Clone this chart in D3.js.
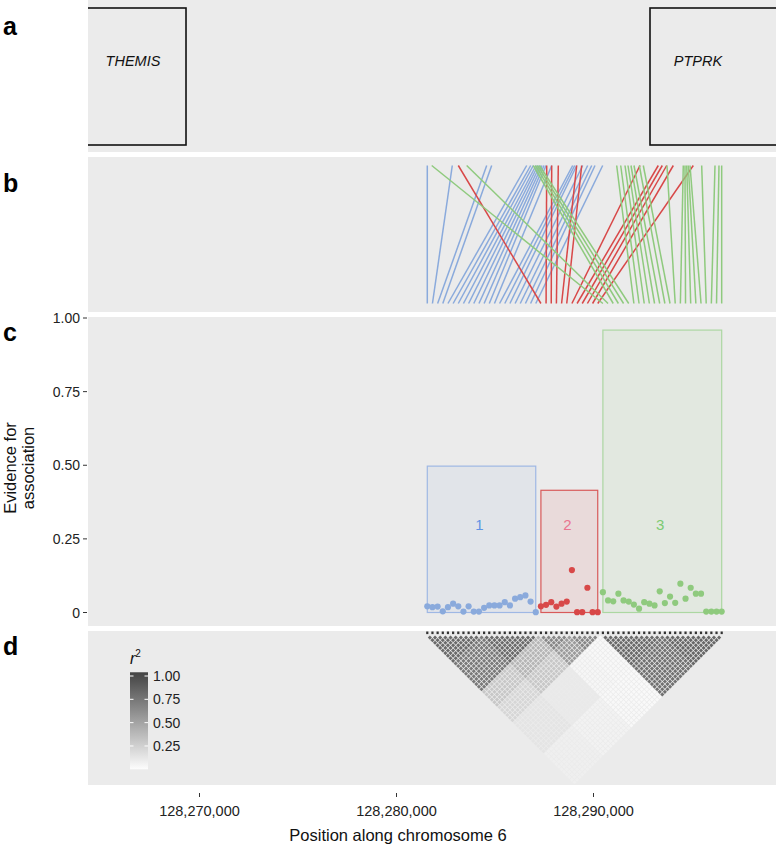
<!DOCTYPE html>
<html><head><meta charset="utf-8">
<script src="https://cdn.jsdelivr.net/npm/d3@7"></script>
<style>body{margin:0;background:#fff}svg{display:block;font-family:"Liberation Sans",Arial,sans-serif}</style>
</head><body><svg id="c" width="776" height="845"></svg>
<script>
// ---------------- data ----------------
const xTicks = [128270000, 128280000, 128290000];
const geneNames = ["THEMIS", "PTPRK"];
const geneStarts = [128240000, 128292868];
const geneEnds = [128269315, 128320000];
const geneLabelPos = [128266624, 128295304];

const clusterNames = ["1", "2", "3"];
const clusterEvidence = [0.497, 0.415, 0.959];
const yTicks = [0, 0.25, 0.5, 0.75, 1];

const bluePos = [128281563,128282832,128284579,128284832,128286609,128286812,128286944,128287081,128287183,128287284,128287386,128287487,128287589,128287878,128288944,128289046,128289147,128289452,128289705,128289909,128290076,128290467];
const redPos = [128283137,128287624,128287878,128288213,128289147,128289401,128292360,128293289,128293492,128293716,128294051,128295066];
const greenPos = [128281787,128283563,128286944,128287056,128287157,128287259,128291178,128291381,128291599,128291751,128291903,128292056,128292325,128292528,128293731,128294558,128294644,128294731,128294812,128294898,128295492,128296167,128296370,128296507];

const blueEvidence = [0.021,0.018,0.020,0.004,0.018,0.030,0.021,0.003,0.021,0.003,0.003,0.016,0.024,0.024,0.024,0.035,0.024,0.047,0.052,0.058,0.037,0.001];
const redEvidence = [0.021,0.026,0.035,0.020,0.030,0.037,0.144,0.001,0.001,0.084,0.001,0.001];
const greenEvidence = [0.069,0.041,0.038,0.064,0.041,0.037,0.027,0.013,0.035,0.030,0.024,0.072,0.032,0.054,0.033,0.098,0.047,0.084,0.064,0.064,0.003,0.003,0.003,0.003];

// LD (r^2) between groups of consecutive SNPs (in plotted order)
const ldGroupSizes = [11, 11, 6, 6, 12, 12];
const ldGroupR2 = [
  [0.82, 0.74, 0.30, 0.22, 0.14, 0.08],
  [0.74, 0.82, 0.40, 0.30, 0.11, 0.06],
  [0.30, 0.40, 0.66, 0.55, 0.04, 0.03],
  [0.22, 0.30, 0.55, 0.66, 0.03, 0.02],
  [0.14, 0.11, 0.04, 0.03, 0.82, 0.78],
  [0.08, 0.06, 0.03, 0.02, 0.78, 0.84]
];
const legendTicks = [0.25, 0.5, 0.75, 1];

// ---------------- styles ----------------
const colors = ["#8aaadc", "#d84848", "#8fca7e"];
const boxStroke = ["#9fb8e4", "#d85a5a", "#acd7a2"];
const labelColors = ["#5f93e4", "#ea7590", "#7ccb73"];
const bg = "#ebebeb";

const svg = d3.select("#c");
const L = 88, R = 776;
const panels = {a:[0,152], b:[157,312], c:[317,626], d:[631,785]};

const x = d3.scaleLinear().domain([128270000, 128290000]).range([199.5, 593.5]);

const defs = svg.append("defs");
defs.append("clipPath").attr("id","clipA").append("rect")
  .attr("x",L).attr("y",panels.a[0]).attr("width",R-L).attr("height",panels.a[1]-panels.a[0]);

Object.values(panels).forEach(p => svg.append("rect").attr("x",L).attr("y",p[0]).attr("width",R-L).attr("height",p[1]-p[0]).attr("fill",bg));

// panel letters
[["a",35],["b",192],["c",341],["d",655]].forEach(([t,y]) =>
  svg.append("text").attr("x",3).attr("y",y).attr("font-size",25).attr("font-weight","bold").attr("fill","#000").text(t));

// ---- panel a: genes ----
const ga = svg.append("g").attr("clip-path","url(#clipA)");
geneNames.forEach((n,k) => {
  ga.append("rect").attr("x",x(geneStarts[k])).attr("y",8).attr("width",x(geneEnds[k])-x(geneStarts[k])).attr("height",137)
    .attr("fill","none").attr("stroke","#111").attr("stroke-width",1.6);
  ga.append("text").attr("x",x(geneLabelPos[k])).attr("y",66).attr("text-anchor","middle")
    .attr("font-size",14.5).attr("font-style","italic").attr("fill","#111").text(n);
});

// ---- SNP table ----
const snps = [];
[bluePos, redPos, greenPos].forEach((arr, c) => {
  const ev = [blueEvidence, redEvidence, greenEvidence][c];
  arr.forEach((p, k) => snps.push({pos:p, cluster:c, ev:ev[k]}));
});
const n = snps.length;
const pmin = d3.min(snps, d=>d.pos), pmax = d3.max(snps, d=>d.pos);
const idx = d3.scaleLinear().domain([0, n-1]).range([pmin, pmax]);
snps.forEach((d,i) => { d.i = i; d.xi = x(idx(i)); });

// ---- panel b: lines ----
const bTop = 165.5, bBot = 303.5;
svg.append("g").selectAll("line").data(snps).join("line")
  .attr("x1", d=>x(d.pos)).attr("y1", bTop).attr("x2", d=>d.xi).attr("y2", bBot)
  .attr("stroke", d=>colors[d.cluster]).attr("stroke-width",1.5);

// ---- panel c ----
const y = d3.scaleLinear().domain([0,1]).range([612.5, 318]);
const gc = svg.append("g");
clusterNames.forEach((nm,c) => {
  const members = snps.filter(d=>d.cluster===c);
  const x0 = d3.min(members,d=>d.xi), x1 = d3.max(members,d=>d.xi);
  gc.append("rect").attr("x",x0).attr("y",y(clusterEvidence[c])).attr("width",x1-x0).attr("height",y(0)-y(clusterEvidence[c]))
    .attr("fill",colors[c]).attr("fill-opacity",0.1).attr("stroke",boxStroke[c]).attr("stroke-width",1.2);
  gc.append("text").attr("x",(x0+x1)/2 - 2).attr("y",y(0.30)+5.5).attr("text-anchor","middle").attr("font-size",15)
    .attr("fill",labelColors[c]).text(nm);
});
gc.selectAll("circle").data(snps).join("circle")
  .attr("cx",d=>d.xi).attr("cy",d=>y(d.ev)).attr("r",3.1).attr("fill",d=>colors[d.cluster]);

// y axis
const ya = svg.append("g");
yTicks.forEach(t => {
  ya.append("line").attr("x1",83).attr("x2",87).attr("y1",y(t)).attr("y2",y(t)).attr("stroke","#333").attr("stroke-width",1);
  ya.append("text").attr("x",80).attr("y",y(t)+5).attr("text-anchor","end").attr("font-size",14).attr("fill","#222")
    .text(t===0 ? "0" : d3.format(".2f")(t));
});
const yt = svg.append("text").attr("transform","translate(0,468) rotate(-90)").attr("text-anchor","middle").attr("font-size",16.5).attr("fill","#111");
yt.append("tspan").attr("x",0).attr("y",16).text("Evidence for");
yt.append("tspan").attr("x",0).attr("y",34).text("association");

// ---- panel d: LD ----
const groupOf = [];
ldGroupSizes.forEach((s,g) => { for (let k=0;k<s;k++) groupOf.push(g); });
const col = d3.scaleLinear().domain([0,1]).range(["#fdfdfd","#4a4a4a"]).interpolate(d3.interpolateRgb);
const step = (snps[n-1].xi - snps[0].xi)/(n-1);
const y0d = 635;
const cells = [];
for (let i=0;i<n;i++) for (let j=i+1;j<n;j++) cells.push({i,j,r2:ldGroupR2[groupOf[i]][groupOf[j]]});
const hs = step*0.5*0.8;
svg.append("g").selectAll("path").data(cells).join("path")
  .attr("d", d => {
    const cx = (snps[d.i].xi + snps[d.j].xi)/2, cy = y0d + (d.j-d.i)*step/2;
    return `M${cx},${cy-hs}L${cx+hs},${cy}L${cx},${cy+hs}L${cx-hs},${cy}Z`;
  })
  .attr("fill", d=>col(d.r2));
svg.append("g").selectAll("rect").data(snps).join("rect")
  .attr("x",d=>d.xi-1.1).attr("y",631.5).attr("width",2.2).attr("height",2.6).attr("fill","#333");

// legend
const ly = d3.scaleLinear().domain([0,1]).range([769.3, 676]);
const grad = defs.append("linearGradient").attr("id","lg").attr("x1",0).attr("y1",1).attr("x2",0).attr("y2",0);
d3.range(0,1.01,0.1).forEach(t => grad.append("stop").attr("offset",t).attr("stop-color",col(t*1.04)));
svg.append("rect").attr("x",130).attr("y",ly(1.04)).attr("width",18).attr("height",ly(0)-ly(1.04)).attr("fill","url(#lg)");
legendTicks.forEach(t => {
  svg.append("line").attr("x1",130).attr("x2",133.5).attr("y1",ly(t)).attr("y2",ly(t)).attr("stroke","#fff").attr("stroke-width",1);
  svg.append("line").attr("x1",144.5).attr("x2",148).attr("y1",ly(t)).attr("y2",ly(t)).attr("stroke","#fff").attr("stroke-width",1);
  svg.append("text").attr("x",153).attr("y",ly(t)+5).attr("font-size",14).attr("fill","#222").text(d3.format(".2f")(t));
});
const lt = svg.append("text").attr("x",130).attr("y",664).attr("font-size",16).attr("fill","#111");
lt.append("tspan").attr("font-style","italic").text("r");
lt.append("tspan").attr("font-size",10).attr("dy",-7).text("2");

// ---- x axis ----
xTicks.forEach(t => {
  svg.append("line").attr("x1",x(t)).attr("x2",x(t)).attr("y1",793).attr("y2",797).attr("stroke","#333").attr("stroke-width",1);
  svg.append("text").attr("x",x(t)).attr("y",816).attr("text-anchor","middle").attr("font-size",14.5).attr("fill","#222").text(d3.format(",")(t));
});
svg.append("text").attr("x",398).attr("y",841).attr("text-anchor","middle").attr("font-size",16.5).attr("fill","#111").text("Position along chromosome 6");
</script></body></html>
